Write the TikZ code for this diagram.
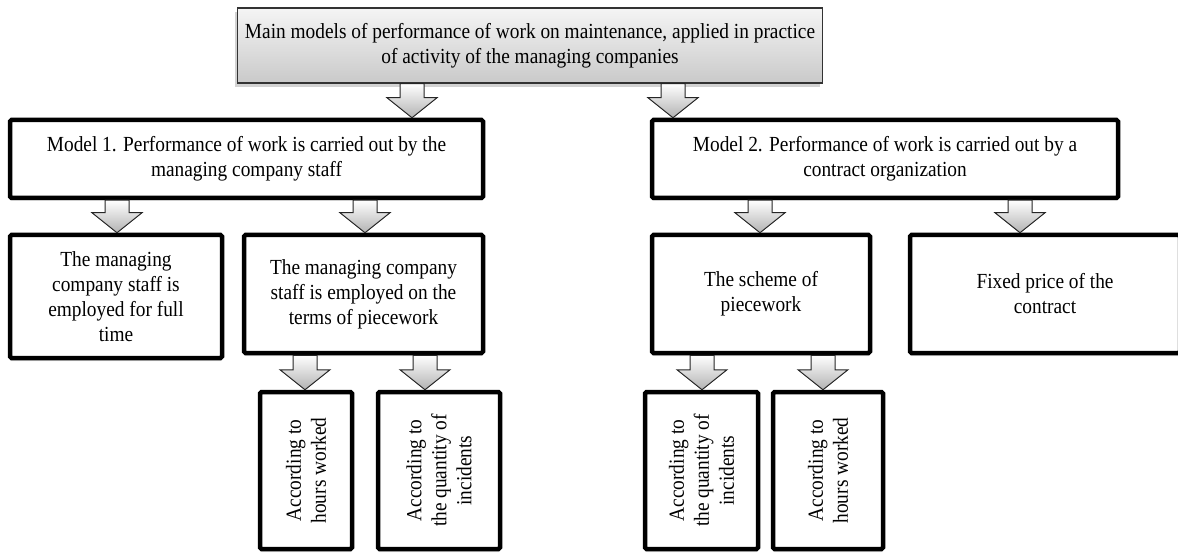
\documentclass[tikz,border=0pt]{standalone}
\usepackage{fontspec}
\setmainfont[FakeStretch=0.9]{Liberation Serif}
\usetikzlibrary{calc,shadows}

\tikzset{
  txt/.style={font=\fontsize{21.5}{25}\selectfont, align=center, inner sep=0pt},
  headbox/.style={txt, draw=black!80, line width=1.4pt, top color=gray!8, bottom color=gray!42,
    drop shadow={opacity=0.35, shadow xshift=-3pt, shadow yshift=-4pt, fill=gray}},
  plainbox/.style={txt, draw=black, line width=4.5pt, rounded corners=1.5pt, fill=white,
    drop shadow={opacity=0.15, shadow xshift=0pt, shadow yshift=-3pt, fill=gray}},
  vbox/.style={plainbox, rotate=90},
  blockarrow/.style={draw=black!85, line width=1pt, top color=white, bottom color=gray!60,
    to path={let \p1=(\tikztostart), \p2=(\tikztotarget) in
      (\x1-12pt,\y1) -- (\x1+12pt,\y1) -- (\x1+12pt,\y2+20pt) -- (\x1+25pt,\y2+20pt)
      -- (\x1,\y2) -- (\x1-25pt,\y2+20pt) -- (\x1-12pt,\y2+20pt) -- cycle}}
}

\begin{document}
\begin{tikzpicture}[x=1pt,y=-1pt]
\clip (0,0) rectangle (1178,553);
\fill[white] (0,0) rectangle (1178,553);

% heading
\node[headbox, minimum width=585pt, minimum height=75pt] (top) at (530,45.5)
  {Main models of performance of work on maintenance, applied in practice\\of activity of the managing companies};

% the two models
\node[plainbox, minimum width=473pt, minimum height=78pt] (m1) at (246.5,159)
  {Model 1. Performance of work is carried out by the\\managing company staff};
\node[plainbox, minimum width=466pt, minimum height=78pt] (m2) at (885,159)
  {Model 2. Performance of work is carried out by a\\contract organization};

% second level
\node[plainbox, minimum width=212pt, minimum height=123pt] (a) at (116,296.5)
  {The managing\\company staff is\\employed for full\\time};
\node[plainbox, minimum width=239pt, minimum height=118pt] (b) at (363.5,294)
  {The managing company\\staff is employed on the\\terms of piecework};
\node[plainbox, minimum width=218pt, minimum height=118pt] (c) at (761,294)
  {The scheme of\\piecework};
\node[plainbox, minimum width=270pt, minimum height=118pt] (d) at (1045,294)
  {Fixed price of the\\contract};

% third level (vertical text, read upwards)
\node[vbox, minimum width=157pt, minimum height=92pt] (v1) at (306,470.5)
  {According to\\hours worked};
\node[vbox, minimum width=157pt, minimum height=122pt] (v2) at (439,470.5)
  {According to\\the quantity of\\incidents};
\node[vbox, minimum width=157pt, minimum height=113pt] (v3) at (701.5,470.5)
  {According to\\the quantity of\\incidents};
\node[vbox, minimum width=157pt, minimum height=110pt] (v4) at (828,470.5)
  {According to\\hours worked};

% arrow positions
\coordinate (x1) at (412,0);
\coordinate (x2) at (673,0);
\coordinate (x3) at (117,0);
\coordinate (x4) at (365,0);
\coordinate (x5) at (760,0);
\coordinate (x6) at (1020,0);
\coordinate (x7) at (305,0);
\coordinate (x8) at (425,0);
\coordinate (x9) at (702,0);
\coordinate (x10) at (823,0);

\path[blockarrow] (x1 |- top.south) to (x1 |- m1.north);
\path[blockarrow] (x2 |- top.south) to (x2 |- m2.north);
\path[blockarrow] (x3 |- m1.south) to (x3 |- a.north);
\path[blockarrow] (x4 |- m1.south) to (x4 |- b.north);
\path[blockarrow] (x5 |- m2.south) to (x5 |- c.north);
\path[blockarrow] (x6 |- m2.south) to (x6 |- d.north);
\path[blockarrow] (x7 |- b.south) to (x7 |- v1.east);
\path[blockarrow] (x8 |- b.south) to (x8 |- v2.east);
\path[blockarrow] (x9 |- c.south) to (x9 |- v3.east);
\path[blockarrow] (x10 |- c.south) to (x10 |- v4.east);
\end{tikzpicture}
\end{document}
